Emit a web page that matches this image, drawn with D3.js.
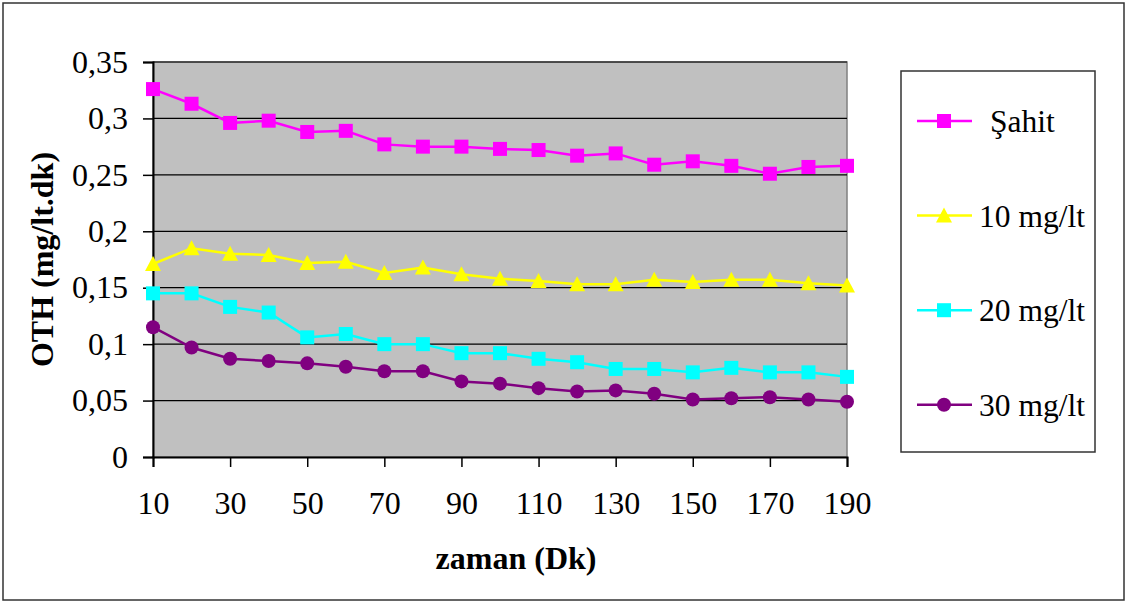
<!DOCTYPE html>
<html>
<head>
<meta charset="utf-8">
<script src="https://cdn.jsdelivr.net/npm/d3@7"></script>
<style>
  body { margin: 0; background: #fff; }
  svg text { font-family: "Liberation Serif", "Times New Roman", serif; }
</style>
</head>
<body>
<div id="chart"></div>
<script>
const svgWidth = 1132;
const svgHeight = 603;

// data
const zaman = [10, 20, 30, 40, 50, 60, 70, 80, 90, 100, 110, 120, 130, 140, 150, 160, 170, 180, 190];
const sahit = [0.326, 0.313, 0.296, 0.298, 0.288, 0.289, 0.277, 0.275, 0.275, 0.273, 0.272, 0.267, 0.269, 0.259, 0.262, 0.258, 0.251, 0.257, 0.258];
const mg10 = [0.171, 0.185, 0.180, 0.179, 0.172, 0.173, 0.163, 0.168, 0.162, 0.158, 0.156, 0.153, 0.153, 0.157, 0.155, 0.157, 0.157, 0.154, 0.152];
const mg20 = [0.145, 0.145, 0.133, 0.128, 0.106, 0.109, 0.100, 0.100, 0.092, 0.092, 0.087, 0.084, 0.078, 0.078, 0.075, 0.079, 0.075, 0.075, 0.071];
const mg30 = [0.115, 0.097, 0.087, 0.085, 0.083, 0.080, 0.076, 0.076, 0.067, 0.065, 0.061, 0.058, 0.059, 0.056, 0.051, 0.052, 0.053, 0.051, 0.049];
const yTicks = [0, 0.05, 0.1, 0.15, 0.2, 0.25, 0.3, 0.35];
const xTicks = [10, 30, 50, 70, 90, 110, 130, 150, 170, 190];

const seriesList = [
  { name: "Şahit", values: sahit, color: "#FF00FF", shape: "square" },
  { name: "10 mg/lt", values: mg10, color: "#FFFF00", shape: "triangle" },
  { name: "20 mg/lt", values: mg20, color: "#00FFFF", shape: "square" },
  { name: "30 mg/lt", values: mg30, color: "#800080", shape: "circle" }
];

const margin = { top: 62, right: 285, bottom: 146, left: 153 };
const width = svgWidth - margin.left - margin.right;
const height = svgHeight - margin.top - margin.bottom;

const svg = d3.select("#chart")
  .append("svg")
  .attr("width", svgWidth)
  .attr("height", svgHeight);

// outer chart border
svg.append("rect")
  .attr("x", 3).attr("y", 3)
  .attr("width", 1121).attr("height", 597)
  .attr("fill", "#fff")
  .attr("stroke", "#333")
  .attr("stroke-width", 1.5);

const chartGroup = svg.append("g")
  .attr("transform", `translate(${margin.left}, ${margin.top})`);

const xScale = d3.scaleLinear().domain([10, 190]).range([0, width]);
const yScale = d3.scaleLinear().domain([0, 0.35]).range([height, 0]);

// plot area
chartGroup.append("rect")
  .attr("width", width)
  .attr("height", height)
  .attr("fill", "#C0C0C0")
  .attr("stroke", "#808080")
  .attr("stroke-width", 1.5);

// gridlines
chartGroup.append("g")
  .selectAll("line")
  .data(yTicks.slice(1))
  .join("line")
  .attr("x1", 0).attr("x2", width)
  .attr("y1", d => yScale(d)).attr("y2", d => yScale(d))
  .attr("stroke", "#000")
  .attr("stroke-width", 1.2);

const commaFmt = d => String(d).replace(".", ",");

const leftAxis = d3.axisLeft(yScale)
  .tickValues(yTicks)
  .tickFormat(commaFmt)
  .tickSize(10)
  .tickPadding(15);

const bottomAxis = d3.axisBottom(xScale)
  .tickValues(xTicks)
  .tickFormat(d => d)
  .tickSize(10)
  .tickPadding(24);

const yAxis = chartGroup.append("g").call(leftAxis);
const xAxis = chartGroup.append("g")
  .attr("transform", `translate(0, ${height})`)
  .call(bottomAxis);

[xAxis, yAxis].forEach(ax => {
  ax.select(".domain").attr("stroke", "#000").attr("stroke-width", 2);
  ax.selectAll(".tick line").attr("stroke", "#000").attr("stroke-width", 1.5);
  ax.selectAll(".tick text")
    .attr("font-size", "32px")
    .attr("fill", "#000");
});

// marker drawing helper
function drawMarker(sel, shape, color) {
  if (shape === "circle") {
    sel.append("circle").attr("r", 7).attr("fill", color);
  } else if (shape === "triangle") {
    sel.append("path").attr("d", "M0,-8 L8,7 L-8,7 Z").attr("fill", color);
  } else {
    sel.append("rect").attr("x", -7).attr("y", -7)
      .attr("width", 14).attr("height", 14).attr("fill", color);
  }
}

const line = d3.line()
  .x((d, i) => xScale(zaman[i]))
  .y(d => yScale(d));

seriesList.forEach(s => {
  chartGroup.append("path")
    .attr("d", line(s.values))
    .attr("fill", "none")
    .attr("stroke", s.color)
    .attr("stroke-width", 2.5);

  chartGroup.append("g")
    .selectAll("g")
    .data(s.values)
    .join("g")
    .attr("transform", (d, i) => `translate(${xScale(zaman[i])}, ${yScale(d)})`)
    .each(function() { drawMarker(d3.select(this), s.shape, s.color); });
});

// axis titles
svg.append("text")
  .attr("x", 516)
  .attr("y", 569)
  .attr("text-anchor", "middle")
  .attr("font-size", "32px")
  .attr("font-weight", "bold")
  .text("zaman (Dk)");

svg.append("text")
  .attr("transform", `translate(53, ${margin.top + height / 2}) rotate(-90)`)
  .attr("text-anchor", "middle")
  .attr("font-size", "32px")
  .attr("font-weight", "bold")
  .text("OTH (mg/lt.dk)");

// legend
const legend = svg.append("g");
legend.append("rect")
  .attr("x", 901).attr("y", 71)
  .attr("width", 194).attr("height", 381)
  .attr("fill", "#fff")
  .attr("stroke", "#333")
  .attr("stroke-width", 1.5);

const legendItems = legend.selectAll("g.item")
  .data(seriesList)
  .join("g")
  .attr("class", "item")
  .attr("transform", (d, i) => `translate(944, ${121 + i * 94.6})`);

legendItems.append("line")
  .attr("x1", -27).attr("x2", 28)
  .attr("stroke", d => d.color)
  .attr("stroke-width", 2.5);

legendItems.each(function(d) { drawMarker(d3.select(this), d.shape, d.color); });

legendItems.append("text")
  .attr("x", (d, i) => i === 0 ? 46 : 35)
  .attr("dy", "0.35em")
  .attr("font-size", "31.5px")
  .attr("fill", "#000")
  .text(d => d.name);
</script>
</body>
</html>
